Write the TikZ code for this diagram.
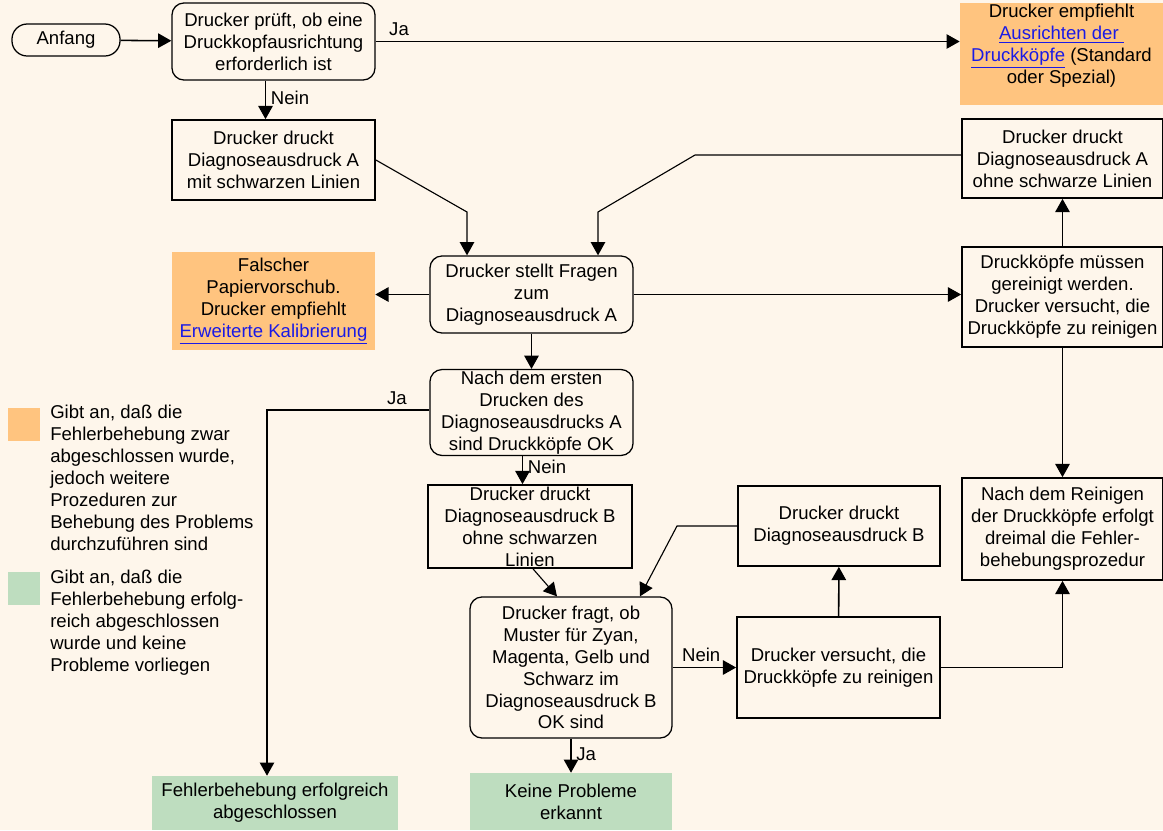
\documentclass[tikz,border=0pt]{standalone}
\usepackage{fontspec}
\setmainfont{Liberation Sans}
\usepackage{tikz}
\usetikzlibrary{arrows.meta, positioning, calc}
\usepackage{xcolor}

\definecolor{bgcream}{RGB}{254,246,235}
\definecolor{notice}{RGB}{255,196,127}
\definecolor{done}{RGB}{190,221,191}
\definecolor{linkblue}{RGB}{26,26,230}
\newcommand{\lnk}[1]{\textcolor{linkblue}{\underline{#1}}}

\begin{document}
\begin{tikzpicture}[
    x=0.025cm, y=-0.025cm,
    every node/.style={
        font=\fontsize{13.2}{15.6}\selectfont
    },
    stepbox/.style={
        draw=black,
        line width=1.2pt,
        align=center,
        inner sep=1pt
    },
    askbox/.style={
        stepbox,
        line width=0.9pt,
        rounded corners=0.3cm
    },
    notebox/.style={
        fill=notice,
        align=center,
        inner sep=1pt
    },
    okbox/.style={
        fill=done,
        align=center,
        inner sep=1pt
    },
    swatch/.style={
        minimum width=0.8cm,
        minimum height=0.825cm,
        inner sep=0pt
    },
    legendtext/.style={
        anchor=north west,
        align=left,
        inner sep=0pt
    },
    arrow/.style={
        -{Triangle[length=0.33cm,width=0.36cm]},
        line width=1.1pt,
        black
    }
]

% Background
\fill[bgcream] (0,0) rectangle (1163,830);
\useasboundingbox (0,0) rectangle (1163,830);

% Nodes (top row)
\node[askbox, rounded corners=0.38cm, minimum width=2.7cm, minimum height=0.8cm] (start) at (66,40) {Anfang};
\node[askbox, minimum width=5.075cm, minimum height=1.925cm] (check) at (273.5,41.5) {Drucker prüft, ob eine\\Druckkopfausrichtung\\erforderlich ist};
\node[notebox, minimum width=5.075cm, minimum height=2.55cm] (align) at (1061.5,54) {Drucker empfiehlt\\\lnk{Ausrichten der\ }\\\lnk{Druckköpfe} (Standard\\oder Spezial)\rule[-0.5cm]{0pt}{0pt}};

% Nodes (left and middle)
\node[stepbox, minimum width=5.075cm, minimum height=2cm] (printA) at (273.5,160) {Drucker druckt\\Diagnoseausdruck A\\mit schwarzen Linien};
\node[notebox, minimum width=5.075cm, minimum height=2.45cm] (paper) at (273.5,301) {Falscher\\Papiervorschub.\\Drucker empfiehlt\\\lnk{Erweiterte Kalibrierung}};
\node[askbox, minimum width=5.075cm, minimum height=1.925cm] (questions) at (531.5,294.5) {Drucker stellt Fragen\\zum\\Diagnoseausdruck A};
\node[askbox, minimum width=5.075cm, minimum height=2.125cm] (firstok) at (531.5,412.5) {Nach dem ersten\\Drucken des\\Diagnoseausdrucks A\\sind Druckköpfe OK};
\node[stepbox, minimum width=5.1cm, minimum height=2.075cm] (printBnoblack) at (530,526.5) {Drucker druckt\\Diagnoseausdruck B\\ohne schwarzen\\Linien};
\node[askbox, minimum width=5.05cm, minimum height=3.525cm] (pattern) at (571,667.5) {Drucker fragt, ob\\Muster für Zyan,\\Magenta, Gelb und\\Schwarz im\\Diagnoseausdruck B\\OK sind};

% Nodes (right side)
\node[stepbox, minimum width=5.025cm, minimum height=1.975cm] (printAnoblack) at (1062.5,158.5) {Drucker druckt\\Diagnoseausdruck A\\ohne schwarze Linien};
\node[stepbox, minimum width=5.025cm, minimum height=2.5cm] (mustclean) at (1062.5,297) {Druckköpfe müssen\\gereinigt werden.\\Drucker versucht, die\\Druckköpfe zu reinigen};
\node[stepbox, minimum width=5.025cm, minimum height=2.55cm] (aftercleaning) at (1062.5,529) {Nach dem Reinigen\\der Druckköpfe erfolgt\\dreimal die Fehler-\\behebungsprozedur};
\node[stepbox, minimum width=5.05cm, minimum height=2cm] (printB) at (839,526) {Drucker druckt\\Diagnoseausdruck B};
\node[stepbox, minimum width=5.075cm, minimum height=2.525cm] (tryclean) at (838.5,667.5) {Drucker versucht, die\\Druckköpfe zu reinigen};

% End nodes
\node[okbox, minimum width=6.15cm, minimum height=1.35cm] (success) at (275,803) {Fehlerbehebung erfolgreich\\abgeschlossen};
\node[okbox, minimum width=5.05cm, minimum height=1.425cm] (noproblem) at (571,801.5) {Keine Probleme\\erkannt};

% Legend
\node[swatch, fill=notice] (legnotice) at (24,424.5) {};
\node[legendtext] (legnoticetext) at (50,405) {Gibt an, daß die\\Fehlerbehebung zwar\\abgeschlossen wurde,\\jedoch weitere\\Prozeduren zur\\Behebung des Problems\\durchzuführen sind};
\node[swatch, fill=done] (legdone) at (24,588.5) {};
\node[legendtext] (legdonetext) at (50,570) {Gibt an, daß die\\Fehlerbehebung erfolg-\\reich abgeschlossen\\wurde und keine\\Probleme vorliegen};

% Corner points of the bent connectors
\coordinate (checkout) at ($(check.south)+(-8,0)$);
\coordinate (firstout) at ($(firstok.south)+(-9,0)$);
\coordinate (bendA) at (467,212);
\coordinate (turnAno) at (695,155);
\coordinate (bendAno) at (598,212);
\coordinate (turnJa) at (267,410);
\coordinate (turnB) at (677,526);

% Connectors
\draw[arrow] (start) -- (check);
\draw[arrow] (check.east) -- node[above, pos=0.04] {Ja} (check.east -| align.west);
\draw[arrow] (checkout) -- node[right, pos=0.45] {Nein} (checkout |- printA.north);
\draw[arrow, line width=0.8pt] (printA.east) -- (bendA) -- (bendA |- questions.north);
\draw[arrow, line width=0.8pt] (printAnoblack.west |- turnAno) -- (turnAno) -- (bendAno) -- (bendAno |- questions.north);
\draw[arrow] (questions.west) -- (questions.west -| paper.east);
\draw[arrow] (questions.east) -- (questions.east -| mustclean.west);
\draw[arrow] (mustclean) -- (printAnoblack);
\draw[arrow] (mustclean) -- (aftercleaning);
\draw[arrow] (questions) -- (firstok);
\draw[arrow] (firstok.west |- turnJa) -- node[above, pos=0.2] {Ja} (turnJa) -- (turnJa |- success.north);
\draw[arrow] (firstout) -- node[right, pos=0.4] {Nein} (firstout |- printBnoblack.north);
\draw[arrow, line width=0.8pt] ($(printBnoblack.south)+(3,0)$) -- ($(pattern.north)+(-14,0)$);
\draw[arrow, line width=0.8pt] (printB.west) -- (turnB) -- ($(pattern.north)+(69,0)$);
\draw[arrow] (pattern.east |- tryclean.west) -- node[above, pos=0.45] {Nein} (tryclean.west);
\draw[arrow] (tryclean) -- (printB);
\draw[arrow] (tryclean.east) -- (tryclean.east -| aftercleaning.south) -- (aftercleaning.south);
\draw[arrow] (pattern) -- node[right, pos=0.45] {Ja} (noproblem);

\end{tikzpicture}
\end{document}
